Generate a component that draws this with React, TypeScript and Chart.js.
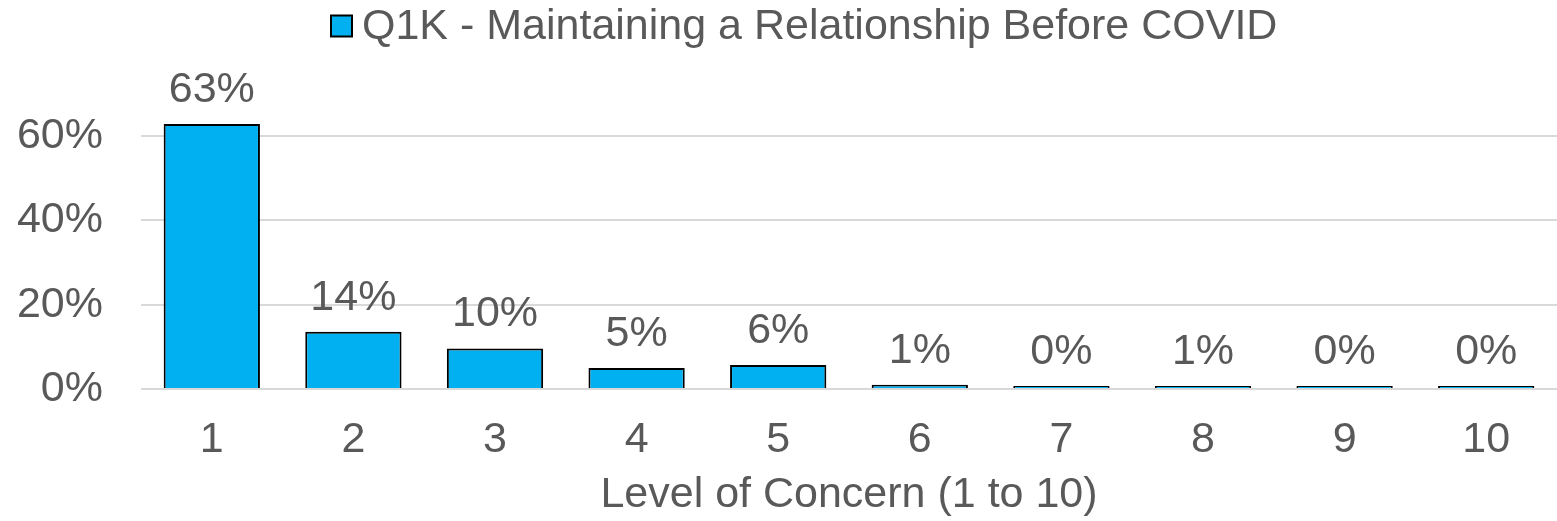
import React, { useEffect, useRef } from "react";
import { Chart, registerables } from "chart.js";

Chart.register(...registerables);

const categories = ["1", "2", "3", "4", "5", "6", "7", "8", "9", "10"];
const seriesLabel = "Q1K - Maintaining a Relationship Before COVID";
const values = [0.629, 0.136, 0.096, 0.05, 0.057, 0.01, 0.003, 0.006, 0.002, 0.002];
const yTicks = [0, 0.2, 0.4, 0.6];
const xTitle = "Level of Concern (1 to 10)";

const FONT = "'Liberation Sans', Arial, sans-serif";
const TEXT = "#595959";
const FS = 43;

const legendPlugin = {
  id: "customLegend",
  afterDraw(chart: any) {
    const ctx = chart.ctx;
    const label = chart.data.datasets[0].label;
    ctx.save();
    ctx.font = `${FS}px ${FONT}`;
    const box = 21;
    const gap = 10;
    const x0 = 331;
    const cy = 26;
    ctx.fillStyle = "#00B0F0";
    ctx.strokeStyle = "#000000";
    ctx.lineWidth = 2;
    ctx.fillRect(x0, cy - box / 2, box, box);
    ctx.strokeRect(x0, cy - box / 2, box, box);
    ctx.fillStyle = TEXT;
    ctx.textBaseline = "middle";
    ctx.textAlign = "left";
    ctx.fillText(label, x0 + box + gap, cy + 1);
    ctx.restore();
  },
};

const dataLabelPlugin = {
  id: "dataLabels",
  afterDatasetsDraw(chart: any) {
    const ctx = chart.ctx;
    const meta = chart.getDatasetMeta(0);
    const data = chart.data.datasets[0].data as number[];
    ctx.save();
    ctx.font = `${FS}px ${FONT}`;
    ctx.fillStyle = TEXT;
    ctx.textAlign = "center";
    ctx.textBaseline = "middle";
    meta.data.forEach((bar: any, i: number) => {
      const txt = Math.round(data[i] * 100) + "%";
      ctx.fillText(txt, bar.x, bar.y - 34);
    });
    ctx.restore();
  },
};

export default function App() {
  const ref = useRef<HTMLCanvasElement>(null);
  useEffect(() => {
    if (!ref.current) return;
    const chart = new Chart(ref.current, {
      type: "bar",
      data: {
        labels: categories,
        datasets: [
          {
            label: seriesLabel,
            data: values,
            backgroundColor: "#00B0F0",
            borderColor: "#000000",
            borderWidth: 2,
            minBarLength: 3,
            categoryPercentage: 1,
            barPercentage: 0.68,
          },
        ],
      },
      options: {
        animation: false,
        responsive: false,
        maintainAspectRatio: false,
        layout: { padding: { top: 94, left: 0, right: 0, bottom: 0 } },
        plugins: {
          legend: { display: false },
          tooltip: { enabled: false },
        },
        scales: {
          x: {
            afterFit(scale: any) {
              scale.height = 132;
            },
            grid: { display: false, drawTicks: false },
            border: { display: false },
            ticks: {
              color: TEXT,
              font: { family: FONT, size: FS },
              padding: 25,
            },
            title: {
              display: true,
              text: xTitle,
              color: TEXT,
              font: { family: FONT, size: FS },
              padding: { top: 4, bottom: 0 },
            },
          },
          y: {
            min: 0,
            max: 0.7,
            afterBuildTicks(scale: any) {
              scale.ticks = yTicks.map((v) => ({ value: v }));
            },
            afterFit(scale: any) {
              scale.width = 141;
            },
            grid: { color: "#D9D9D9", lineWidth: 2, drawTicks: false },
            border: { display: false },
            ticks: {
              color: TEXT,
              font: { family: FONT, size: FS },
              padding: 38,
              callback: (v: any) => Math.round(Number(v) * 100) + "%",
            },
          },
        },
      },
      plugins: [legendPlugin, dataLabelPlugin],
    });
    return () => chart.destroy();
  }, []);
  return (
    <div style={{ position: "fixed", left: 0, top: 0, width: 1557, height: 521, background: "#fff" }}>
      <canvas ref={ref} width={1557} height={521} style={{ width: 1557, height: 521 }} />
    </div>
  );
}
